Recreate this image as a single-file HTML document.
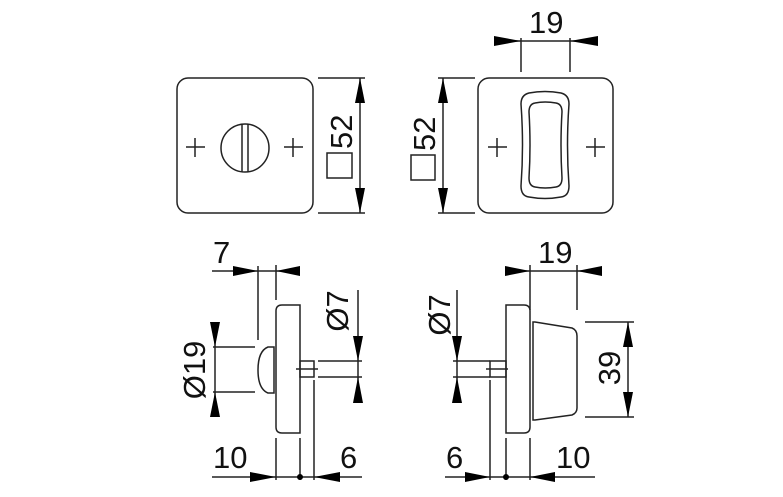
<!DOCTYPE html>
<html><head><style>body{margin:0;background:#fff}svg{display:block}text{font-family:"Liberation Sans",sans-serif;font-size:31px;fill:#111}</style></head><body>
<svg width="783" height="497" viewBox="0 0 783 497" stroke="#222" stroke-width="1.5" fill="none">
<!-- top left plate -->
<rect x="177" y="78" width="136" height="135" rx="11"/>
<circle cx="245" cy="148" r="24"/>
<line x1="242" y1="124" x2="242" y2="172"/><line x1="248" y1="124" x2="248" y2="172"/>
<path d="M186 147h19M195 138v19M284 147h19M293 138v19"/>
<path d="M318 78h47M318 213h47M360 78v135"/>
<g fill="#000" stroke="none"><polygon points="360,78 355,103 365,103"/><polygon points="360,213 355,188 365,188"/></g>
<rect x="327" y="153" width="25" height="25"/>
<text transform="translate(352,149) rotate(-90)" stroke="none" font-size="34">52</text>
<!-- top right plate -->
<path d="M438 78h37M438 213h37M443 78v135"/>
<g fill="#000" stroke="none"><polygon points="443,78 438,103 448,103"/><polygon points="443,213 438,188 448,188"/></g>
<rect x="411" y="155" width="24" height="25"/>
<text transform="translate(435,151) rotate(-90)" stroke="none" font-size="34">52</text>
<rect x="478" y="78" width="135" height="135" rx="11"/>
<path d="M529 93 Q545 90 561 93 Q569 95 569 104 Q566 145 569 186 Q569 196 561 197 Q545 200 529 197 Q521 196 521 186 Q524 145 521 104 Q521 95 529 93Z"/>
<path d="M535 103 Q545 101 556 103 Q562 104 562 112 Q560 145 562 178 Q562 186 556 187 Q545 189 535 187 Q529 186 529 178 Q531 145 529 112 Q529 104 535 103Z"/>
<path d="M488 147h19M497 138v19M586 147h19M595 138v19"/>
<path d="M521 38v34M570 38v34M494 41h104"/>
<g fill="#000" stroke="none"><polygon points="521,41 494,36 494,46"/><polygon points="570,41 598,36 598,46"/></g>
<text x="529" y="33" stroke="none">19</text>
<!-- bottom left -->
<path d="M282 305h18v128h-18q-6 0-6-6v-116q0-6 6-6z"/>
<path d="M274 347h-6q-10 4-10 23q0 19 10 23h6z"/>
<rect x="300" y="361" width="14" height="16"/>
<path d="M296 369h22"/>
<path d="M258 266v74M276 265v35M212 271h88"/>
<g fill="#000" stroke="none"><polygon points="258,271 233,266 233,276"/><polygon points="276,271 300,266 300,276"/></g>
<text x="213" y="263" stroke="none">7</text>
<path d="M213 347h42M213 392h42M215 322v95"/>
<g fill="#000" stroke="none"><polygon points="215,347 210,322 220,322"/><polygon points="215,392 210,417 220,417"/></g>
<text transform="translate(205,370) rotate(-90)" text-anchor="middle" stroke="none">Ø19</text>
<path d="M318 361h44M318 377h44M358 290v113"/>
<g fill="#000" stroke="none"><polygon points="358,361 353,336 363,336"/><polygon points="358,377 353,403 363,403"/></g>
<text transform="translate(348,311) rotate(-90)" text-anchor="middle" stroke="none">Ø7</text>
<path d="M276 438v42M300 438v42M314 380v100M212 477h150"/>
<g fill="#000" stroke="none"><polygon points="276,477 250,472 250,482"/><polygon points="314,477 340,472 340,482"/><circle cx="300" cy="477" r="3"/></g>
<text x="213" y="468" stroke="none">10</text>
<text x="340" y="468" stroke="none">6</text>
<!-- bottom right -->
<path d="M506 305h18q6 0 6 6v116q0 6-6 6h-18z"/>
<path d="M533 322h2l37 6q5 2 5 8v72q0 5-5 7l-37 5h-2z"/>
<rect x="490" y="361" width="16" height="16"/>
<path d="M486 369h22"/>
<path d="M530 265v45M577 265v45M505 271h97"/>
<g fill="#000" stroke="none"><polygon points="530,271 505,266 505,276"/><polygon points="577,271 602,266 602,276"/></g>
<text x="538" y="263" stroke="none">19</text>
<path d="M585 322h49M585 417h49M628 322v95"/>
<g fill="#000" stroke="none"><polygon points="628,322 623,347 633,347"/><polygon points="628,417 623,392 633,392"/></g>
<text transform="translate(620,368) rotate(-90)" text-anchor="middle" stroke="none">39</text>
<path d="M453 361h37M453 377h37M457 290v113"/>
<g fill="#000" stroke="none"><polygon points="457,361 452,336 462,336"/><polygon points="457,377 452,403 462,403"/></g>
<text transform="translate(450,315) rotate(-90)" text-anchor="middle" stroke="none">Ø7</text>
<path d="M490 380v100M506 438v42M530 438v42M445 477h150"/>
<g fill="#000" stroke="none"><polygon points="490,477 465,472 465,482"/><polygon points="530,477 555,472 555,482"/><circle cx="506" cy="477" r="3"/></g>
<text x="446" y="468" stroke="none">6</text>
<text x="556" y="468" stroke="none">10</text>
</svg>
</body></html>
